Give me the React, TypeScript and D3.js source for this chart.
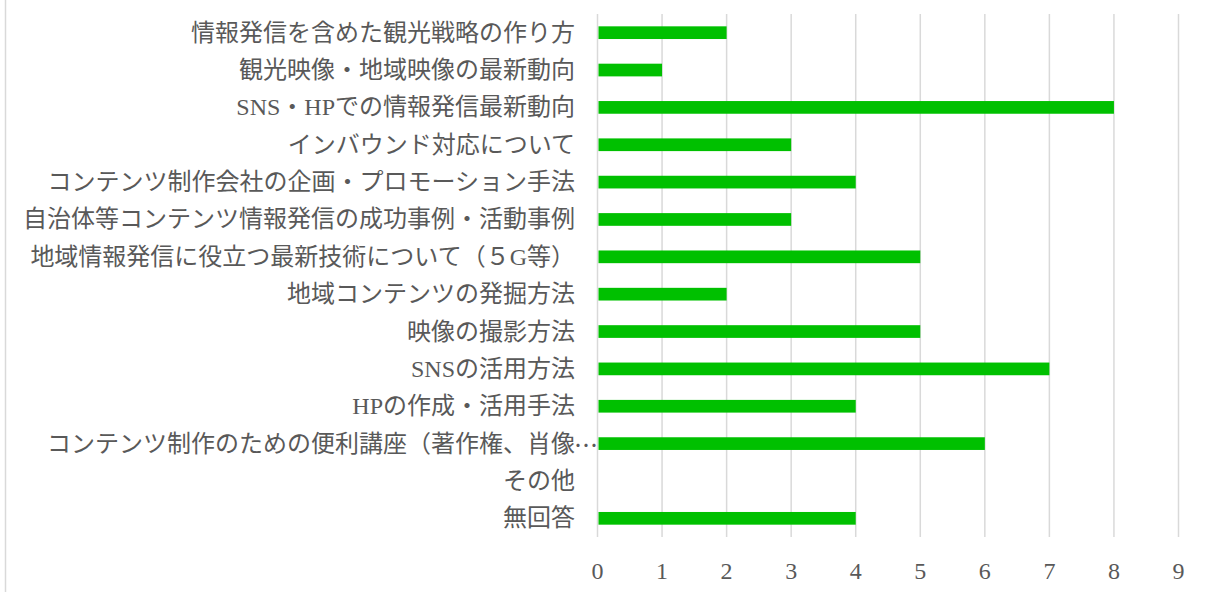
import React from "react";
import * as d3 from "d3";

const categories = [
  "情報発信を含めた観光戦略の作り方",
  "観光映像・地域映像の最新動向",
  "SNS・HPでの情報発信最新動向",
  "インバウンド対応について",
  "コンテンツ制作会社の企画・プロモーション手法",
  "自治体等コンテンツ情報発信の成功事例・活動事例",
  "地域情報発信に役立つ最新技術について（５G等）",
  "地域コンテンツの発掘方法",
  "映像の撮影方法",
  "SNSの活用方法",
  "HPの作成・活用手法",
  "コンテンツ制作のための便利講座（著作権、肖像…",
  "その他",
  "無回答",
];
const values = [2, 1, 8, 3, 4, 3, 5, 2, 5, 7, 4, 6, 0, 4];
const ticks = [0, 1, 2, 3, 4, 5, 6, 7, 8, 9];

const W = 1211;
const H = 592;
const FONT = "'Liberation Serif', 'Noto Sans CJK JP', serif";
const CJK = "'Noto Sans CJK JP', sans-serif";

export default function App() {
  const x = d3.scaleLinear().domain([0, 9]).range([597.5, 1178.5]);
  const y = d3
    .scaleBand<string>()
    .domain(categories)
    .range([14, 537])
    .paddingInner(0.66)
    .paddingOuter(0.33);
  const band = d3.scaleBand<string>().domain(categories).range([14, 537]);

  return (
    <svg
      width={W}
      height={H}
      style={{ position: "absolute", left: 0, top: 0, background: "#fff" }}
    >
      <rect x={0} y={0} width={W} height={H} fill="#fff" />
      <line x1={5.5} x2={5.5} y1={0} y2={H} stroke="#D9D9D9" strokeWidth={1.5} />
      {ticks.map((t) => (
        <line
          key={"g" + t}
          x1={x(t)}
          x2={x(t)}
          y1={14}
          y2={537}
          stroke="#D9D9D9"
          strokeWidth={1.5}
        />
      ))}
      {categories.map((c, i) => (
        <rect
          key={"b" + i}
          x={x(0) + 1}
          y={y(c)}
          width={Math.max(0, x(values[i]) - x(0) - 1)}
          height={y.bandwidth()}
          fill="#00C000"
        />
      ))}
      {categories.map((c) => {
        const cy = (band(c) as number) + band.bandwidth() / 2;
        const trunc = c.endsWith("…");
        const main = trunc ? c.slice(0, -1) : c;
        return (
          <g key={"l" + c}>
            <text
              x={575}
              y={cy}
              textAnchor="end"
              dominantBaseline="central"
              fontFamily={FONT}
              fontSize={24}
              fill="#595959"
            >
              {main}
            </text>
            {trunc && (
              <text
                x={574}
                y={cy}
                textAnchor="start"
                dominantBaseline="central"
                fontFamily={CJK}
                fontSize={24}
                fill="#595959"
              >
                …
              </text>
            )}
          </g>
        );
      })}
      {ticks.map((t) => (
        <text
          key={"t" + t}
          x={x(t)}
          y={571}
          textAnchor="middle"
          dominantBaseline="central"
          fontFamily={FONT}
          fontSize={24}
          fill="#595959"
        >
          {t}
        </text>
      ))}
    </svg>
  );
}
